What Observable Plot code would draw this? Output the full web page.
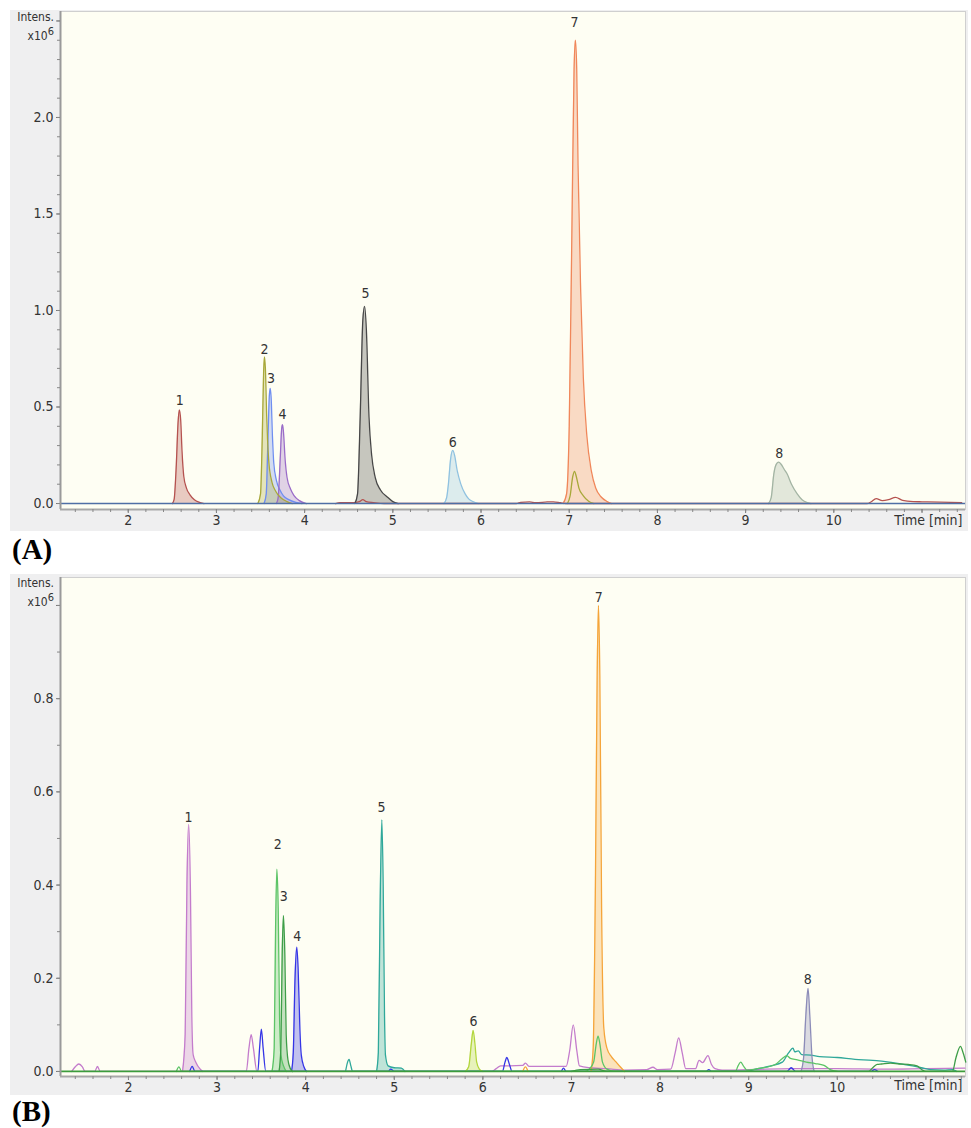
<!DOCTYPE html>
<html><head><meta charset="utf-8">
<script src="https://cdn.jsdelivr.net/npm/d3@7"></script>
<script src="https://cdn.jsdelivr.net/npm/@observablehq/plot@0.6"></script>
<style>
body{margin:0;background:#fff;}
#wrap{position:relative;width:971px;height:1128px;overflow:hidden;}
.panel{position:absolute;left:10px;}
.ylab{position:absolute;left:5px;width:49px;text-align:right;font-family:"DejaVu Sans Condensed","DejaVu Sans",sans-serif;font-size:12px;color:#333;line-height:12px;white-space:nowrap;}
.ylab span{font-size:11px;position:relative;top:-5px;line-height:0;}
.tag{position:absolute;left:12px;font:bold 29px "Liberation Serif","Times New Roman",serif;color:#000;line-height:1;}
</style></head><body><div id="wrap"></div>
<script>
// ---------------- Panel A data (time [min], intensity x10^6) ----------------
const aRedPeak = [[2.50,0],[2.52,0.02],[2.545,0.2],[2.565,0.42],[2.58,0.485],[2.595,0.43],[2.61,0.27],[2.63,0.14],[2.66,0.08],[2.70,0.045],[2.75,0.02],[2.80,0.007],[2.86,0]];
const aRedMinor = [[4.35,0],[4.40,0.004],[4.55,0.005],[4.62,0.01],[4.66,0.02],[4.70,0.01],[4.78,0.005],[4.90,0],
  [6.40,0],[6.45,0.006],[6.55,0.009],[6.62,0.004],[6.75,0.008],[6.82,0.009],[6.90,0.004],[6.96,0],
  [10.38,0],[10.42,0.008],[10.48,0.025],[10.55,0.015],[10.62,0.02],[10.70,0.032],[10.78,0.016],[10.9,0.01],[11.0,0.009],[11.2,0.007],[11.45,0.005]];
const aOlivePeak = [[3.47,0],[3.50,0.05],[3.52,0.35],[3.535,0.68],[3.545,0.76],[3.555,0.70],[3.57,0.45],[3.595,0.21],[3.63,0.11],[3.67,0.065],[3.73,0.03],[3.80,0.01],[3.86,0]];
const aOliveMinor = [[6.98,0],[7.01,0.04],[7.04,0.14],[7.06,0.167],[7.08,0.14],[7.11,0.08],[7.16,0.04],[7.22,0.012],[7.28,0]];
const aBluePeak = [[3.54,0],[3.565,0.05],[3.585,0.35],[3.60,0.56],[3.61,0.597],[3.62,0.55],[3.635,0.35],[3.65,0.21],[3.68,0.12],[3.72,0.07],[3.76,0.04],[3.82,0.02],[3.90,0.006],[3.97,0]];
const aPurplePeak = [[3.68,0],[3.70,0.03],[3.725,0.25],[3.74,0.39],[3.75,0.408],[3.76,0.37],[3.78,0.22],[3.80,0.136],[3.84,0.075],[3.88,0.041],[3.94,0.015],[4.02,0]];
const aGrayPeak = [[4.57,0],[4.60,0.05],[4.63,0.45],[4.66,0.95],[4.68,1.021],[4.70,0.9],[4.73,0.447],[4.76,0.25],[4.80,0.136],[4.86,0.07],[4.94,0.033],[5.00,0.01],[5.06,0]];
const aSkyPeak = [[5.58,0],[5.61,0.03],[5.63,0.10],[5.655,0.23],[5.68,0.275],[5.70,0.25],[5.73,0.17],[5.77,0.102],[5.82,0.05],[5.86,0.024],[5.92,0.008],[5.97,0]];
const aOrangePeak = [[6.93,0],[6.97,0.05],[7.00,0.4],[7.03,1.4],[7.055,2.25],[7.07,2.40],[7.085,2.25],[7.10,1.75],[7.13,1.1],[7.16,0.65],[7.20,0.35],[7.25,0.17],[7.30,0.08],[7.36,0.035],[7.43,0.01],[7.48,0]];
const aSagePeak = [[9.26,0],[9.29,0.03],[9.32,0.154],[9.35,0.205],[9.375,0.214],[9.40,0.205],[9.44,0.175],[9.47,0.154],[9.52,0.10],[9.585,0.05],[9.64,0.02],[9.70,0.005],[9.74,0]];
const aLabelText = ["1","2","3","4","5","6","7","8"];
const aLabelTime = [2.583, 3.545, 3.62, 3.75, 4.69, 5.68, 7.06, 9.38];
const aLabelValue = [0.534, 0.80, 0.649, 0.46, 1.087, 0.318, 2.49, 0.258];
const aYTicks = [0, 0.5, 1.0, 1.5, 2.0, 2.5];
const aYTickLabels = ["0.0","0.5","1.0","1.5","2.0",""];

// ---------------- Panel B data ----------------
const bPinkPeak = [[2.61,0],[2.64,0.08],[2.66,0.40],[2.68,0.53],[2.70,0.38],[2.715,0.12],[2.73,0.036],[2.76,0.02],[2.81,0.005],[2.84,0]];
const bPinkMinor = [[1.36,0],[1.40,0.01],[1.44,0.016],[1.48,0.01],[1.51,0],[1.62,0],[1.65,0.011],[1.68,0],
  [3.33,0],[3.36,0.05],[3.385,0.079],[3.41,0.05],[3.45,0],
  [6.10,0],[6.15,0.006],[6.20,0.012],[6.30,0.012],[6.45,0.013],[6.48,0.018],[6.52,0.011],[6.94,0.011],[6.98,0.045],[7.02,0.10],[7.06,0.045],[7.09,0.012],[7.20,0.008],[7.40,0.006],[7.60,0.003],[7.85,0.004],[7.92,0.009],[7.97,0.004],[8.12,0.005],[8.17,0.04],[8.21,0.072],[8.25,0.04],[8.29,0.006],[8.40,0.006],[8.44,0.024],[8.48,0.019],[8.54,0.034],[8.58,0.015],[8.62,0.006],[8.70,0.003],[9.0,0.004],[9.5,0.006],[10.0,0.006],[10.5,0.005],[11.0,0.006],[11.44,0.007]];
const bGreenPeak = [[3.62,0],[3.645,0.05],[3.66,0.30],[3.675,0.434],[3.69,0.35],[3.705,0.12],[3.72,0.036],[3.75,0.012],[3.78,0]];
const bGreenMinor = [[2.54,0],[2.57,0.01],[2.60,0],
  [7.15,0],[7.20,0.005],[7.25,0.02],[7.28,0.06],[7.30,0.076],[7.32,0.06],[7.35,0.02],[7.40,0.005],[7.5,0],
  [8.85,0],[8.88,0.012],[8.91,0.02],[8.94,0.012],[8.98,0.003],[9.1,0.006],[9.3,0.015],[9.38,0.028],[9.43,0.034],[9.47,0.028],[9.55,0.025],[9.65,0.02],[9.75,0.017],[9.85,0.013],[9.92,0.004],[10.0,0]];
const bDarkGreenPeak = [[3.70,0],[3.72,0.05],[3.735,0.25],[3.75,0.335],[3.765,0.25],[3.78,0.08],[3.80,0.025],[3.83,0.005],[3.85,0]];
const bDarkGreenMinor = [[7.0,0],[7.1,0.004],[7.3,0.005],[7.4,0],
  [10.35,0],[10.40,0.008],[10.45,0.015],[10.5,0.016],[10.6,0.018],[10.7,0.016],[10.8,0.015],[10.9,0.012],[10.96,0.003],[11.0,0],
  [11.30,0],[11.34,0.03],[11.39,0.054],[11.42,0.04],[11.45,0.02]];
const bBluePeak = [[3.84,0],[3.86,0.04],[3.88,0.20],[3.90,0.267],[3.915,0.22],[3.935,0.09],[3.95,0.036],[3.98,0.01],[4.01,0]];
const bBlueMinor = [[2.69,0],[2.72,0.011],[2.75,0],[3.46,0],[3.48,0.05],[3.50,0.091],[3.52,0.05],[3.55,0],
  [4.93,0],[4.96,0.005],[5.0,0],[6.22,0],[6.25,0.02],[6.27,0.030],[6.30,0.015],[6.33,0],[6.88,0],[6.91,0.007],[6.94,0],
  [8.52,0],[8.55,0.004],[8.58,0],[9.43,0],[9.48,0.008],[9.53,0],[10.38,0],[10.42,0.004],[10.46,0]];
const bTealPeak = [[4.80,0],[4.82,0.04],[4.84,0.35],[4.86,0.54],[4.875,0.40],[4.89,0.12],[4.90,0.036],[4.93,0.012],[5.0,0.008],[5.08,0.007],[5.12,0]];
const bTealMinor = [[4.45,0],[4.47,0.018],[4.49,0.026],[4.51,0.012],[4.53,0],
  [8.95,0],[9.1,0.006],[9.25,0.012],[9.38,0.02],[9.45,0.04],[9.50,0.05],[9.52,0.042],[9.56,0.044],[9.60,0.036],[9.70,0.035],[9.8,0.032],[10.0,0.030],[10.2,0.026],[10.4,0.024],[10.5,0.022],[10.7,0.017],[10.85,0.012],[10.95,0.008],[11.05,0.004],[11.2,0.003],[11.3,0.004],[11.35,0]];
const bLimePeak = [[5.80,0],[5.84,0.01],[5.87,0.06],[5.89,0.088],[5.91,0.06],[5.93,0.02],[5.96,0.005],[6.00,0]];
const bOrangePeak = [[7.22,0],[7.245,0.05],[7.27,0.4],[7.29,0.85],[7.305,1.0],[7.32,0.85],[7.34,0.35],[7.365,0.093],[7.40,0.05],[7.45,0.032],[7.50,0.021],[7.55,0.01],[7.60,0]];
const bOrangeMinor = [[6.45,0],[6.48,0.01],[6.51,0]];
const bSlatePeak = [[9.59,0],[9.62,0.03],[9.645,0.12],[9.67,0.178],[9.69,0.12],[9.715,0.03],[9.74,0]];
const bLabelText = ["1","2","3","4","5","6","7","8"];
const bLabelTime = [2.677, 3.685, 3.753, 3.904, 4.855, 5.894, 7.308, 9.667];
const bLabelValue = [0.546, 0.487, 0.376, 0.289, 0.566, 0.108, 1.017, 0.198];
const bYTicks = [0, 0.2, 0.4, 0.6, 0.8, 1.0];
const bYTickLabels = ["0.0","0.2","0.4","0.6","0.8",""];

const xTicks = [2,3,4,5,6,7,8,9,10,11];
const xTickLabels = ["2","3","4","5","6","7","8","9","10",""];

// ---------------- drawing ----------------
const FONT = '"DejaVu Sans Condensed","DejaVu Sans",sans-serif';
const W = 958, H = 521;
const px = d => d[0], py = d => d[1];

function panel(cfg) {
  const marks = [Plot.frame({fill: "#fefef3", stroke: "#cfcfcf"})];
  for (const s of cfg.series) if (s.peak)
    marks.push(Plot.areaY(s.peak, {x: px, y: py, fill: s.color, fillOpacity: 0.3, curve: "monotone-x"}));
  for (const s of cfg.series) for (const arr of [s.peak, s.minor]) if (arr)
    marks.push(Plot.line(arr, {x: px, y: py, stroke: s.color, strokeWidth: 1.3, curve: "monotone-x"}));
  marks.push(Plot.ruleY([0], {stroke: cfg.base, strokeWidth: 1.7}));
  marks.push(Plot.ruleX([cfg.xDomain[0]], {stroke: "#9a9a9a", strokeWidth: 2}));
  marks.push(Plot.ruleY([cfg.yDomain[0]], {stroke: "#a8a8a8", strokeWidth: 2}));
  const yLab = new Map(cfg.yTicks.map((t, i) => [t, cfg.yTickLabels[i]]));
  marks.push(Plot.axisY({ticks: cfg.yTicks, tickSize: 4, tickPadding: 3, tickFormat: d => yLab.get(d) ?? "", label: null, fontSize: 14, stroke: "#777", fill: "#333"}));
  marks.push(Plot.axisY({ticks: cfg.yMinor, tickSize: 3, tickFormat: () => "", label: null, stroke: "#888"}));
  const xLab = new Map(xTicks.map((t, i) => [t, xTickLabels[i]]));
  marks.push(Plot.axisX({ticks: xTicks, tickSize: 4, tickPadding: 2, tickFormat: d => xLab.get(d) ?? "", label: null, fontSize: 14, stroke: "#777", fill: "#333"}));
  marks.push(Plot.axisX({ticks: d3.range(1.4, 11.45, 0.2), tickSize: 3, tickFormat: () => "", label: null, stroke: "#888"}));
  marks.push(Plot.text(["Time [min]"], {frameAnchor: "bottom-right", textAnchor: "end", lineAnchor: "middle", dx: -3, dy: cfg.timeDy, fontSize: 14, fill: "#333"}));
  const lab = cfg.labelText.map((t, i) => ({t, x: cfg.labelTime[i], y: cfg.labelValue[i]}));
  marks.push(Plot.text(lab, {x: "x", y: "y", text: "t", fontSize: 14, fill: "#333"}));
  return Plot.plot({
    width: W, height: H,
    marginLeft: 50, marginRight: 3, marginTop: cfg.mT, marginBottom: cfg.mB,
    x: {domain: cfg.xDomain, label: null},
    y: {domain: cfg.yDomain, label: null},
    style: {fontFamily: FONT, fontSize: "14px", background: "#efeff0", color: "#333", overflow: "visible"},
    marks
  });
}

const wrap = document.getElementById("wrap");
function place(el, top) { el.classList.add("panel"); el.style.top = top + "px"; wrap.appendChild(el); }
function html(cls, text, top) { const d = document.createElement("div"); d.className = cls; d.innerHTML = text; d.style.top = top + "px"; wrap.appendChild(d); }

const A = panel({
  xDomain: [1.232, 11.493], yDomain: [-0.031, 2.549], mT: 1, mB: 22, timeDy: 11,
  yTicks: aYTicks, yTickLabels: aYTickLabels, yMinor: d3.range(0, 2.55, 0.1),
  base: "#4f6fa5",
  series: [
    {peak: aRedPeak, minor: aRedMinor, color: "#b5524f"},
    {peak: aBluePeak, color: "#6f8ef0"},
    {peak: aPurplePeak, color: "#9a6cc8"},
    {peak: aGrayPeak, color: "#474747"},
    {peak: aSkyPeak, color: "#90c2e0"},
    {peak: aOrangePeak, color: "#f0875a"},
    {peak: aSagePeak, color: "#a3b4a3"},
    {peak: aOlivePeak, minor: aOliveMinor, color: "#a8a83a"}
  ],
  labelText: aLabelText, labelTime: aLabelTime, labelValue: aLabelValue
});
place(A, 10);

const B = panel({
  xDomain: [1.233, 11.447], yDomain: [-0.0108, 1.06], mT: 3, mB: 19, timeDy: 9,
  yTicks: bYTicks, yTickLabels: bYTickLabels, yMinor: d3.range(0, 1.05, 0.1),
  base: "#3c9c3c",
  series: [
    {peak: bPinkPeak, minor: bPinkMinor, color: "#c47ccc"},
    {peak: bBluePeak, minor: bBlueMinor, color: "#3535e6"},
    {peak: bTealPeak, minor: bTealMinor, color: "#2fa89a"},
    {peak: bLimePeak, color: "#b2d63c"},
    {peak: bOrangePeak, minor: bOrangeMinor, color: "#f5a53a"},
    {peak: bSlatePeak, color: "#8c8cb8"},
    {peak: bGreenPeak, minor: bGreenMinor, color: "#5cc466"},
    {peak: bDarkGreenPeak, minor: bDarkGreenMinor, color: "#3e9e48"}
  ],
  labelText: bLabelText, labelTime: bLabelTime, labelValue: bLabelValue
});
place(B, 574);

html("ylab", "Intens.", 11);
html("ylab", "x10<span>6</span>", 30);
html("ylab", "Intens.", 577);
html("ylab", "x10<span>6</span>", 596);
html("tag", "(A)", 535);
html("tag", "(B)", 1097);
</script>
</body></html>
